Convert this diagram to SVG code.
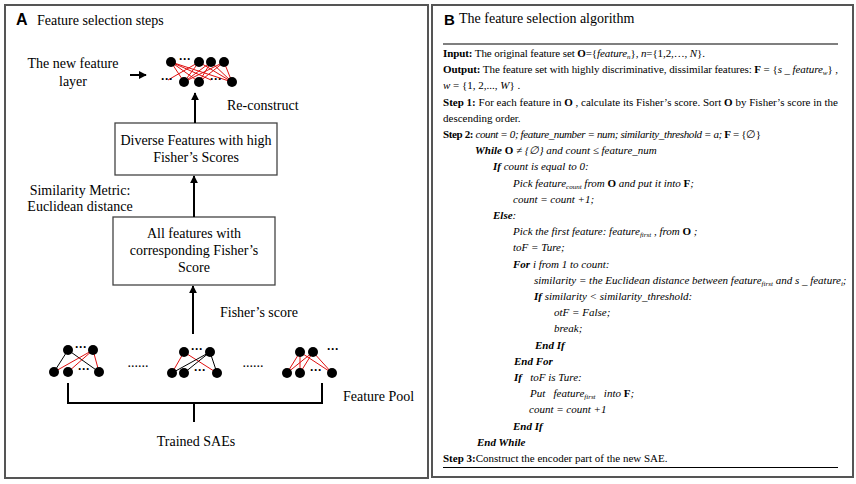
<svg xmlns="http://www.w3.org/2000/svg" width="856" height="484" viewBox="0 0 856 484">
<style>
.panel{fill:#fff;stroke:#555;stroke-width:2}
.box{fill:#fff;stroke:#444;stroke-width:1.3}
.t{font-family:"Liberation Serif","Times New Roman",serif;font-size:14px;fill:#000}
.hd{font-family:"Liberation Sans",Arial,sans-serif;font-weight:bold;fill:#000}
.al{font-family:"Liberation Serif","Times New Roman",serif;font-size:11px;fill:#000}
.b{font-weight:bold}
.i{font-style:italic}
.bi{font-weight:bold;font-style:italic}
.sub{font-size:7px;font-style:italic}
.arr{stroke:#000;stroke-width:2;fill:none;marker-end:url(#ah)}
.red{stroke:#e01010;stroke-width:1}
.blk{stroke:#000;stroke-width:1}
.nd{fill:#000}
.dots{font-family:"Liberation Sans",Arial,sans-serif;font-size:12px;font-weight:bold;fill:#000}
.rule{stroke:#000;stroke-width:1.2}
</style>
<defs>
<marker id="ah" viewBox="0 0 10 10" refX="9" refY="5" markerWidth="8" markerHeight="9" markerUnits="userSpaceOnUse" orient="auto">
<path d="M0,0 L10,5 L0,10 z" fill="#000"/>
</marker>
</defs>
<rect width="856" height="484" fill="#fff"/>
<g id="panelA">
<rect class="panel" x="5" y="5" width="423" height="473"/>
<text class="hd" x="16" y="25" font-size="16">A</text>
<text class="t" x="37" y="25" font-size="15">Feature selection steps</text>
</g>
<g id="panelB">
<rect class="panel" x="432" y="5" width="421" height="472"/>
<text class="hd" x="444" y="25" font-size="15">B</text>
<text class="t" x="459" y="23" font-size="12.8">The feature selection algorithm</text>
<line class="rule" x1="443" y1="44" x2="838" y2="44"/>
<line class="rule" x1="443" y1="467.5" x2="838" y2="467.5"/>
</g>
<g id="new-layer">
<text class="t" x="73" y="68" text-anchor="middle">The new feature</text>
<text class="t" x="73" y="86" text-anchor="middle">layer</text>
<g>
<line class="red" x1="171" y1="62" x2="184" y2="82"/><line class="red" x1="171" y1="62" x2="199" y2="82"/><line class="red" x1="171" y1="62" x2="232" y2="82"/>
<line class="red" x1="199" y1="62" x2="184" y2="82"/><line class="red" x1="199" y1="62" x2="232" y2="82"/><line class="red" x1="199" y1="62" x2="168" y2="80"/>
<line class="red" x1="211" y1="62" x2="184" y2="82"/><line class="red" x1="211" y1="62" x2="199" y2="82"/><line class="red" x1="211" y1="62" x2="232" y2="82"/>
<line class="red" x1="224" y1="62" x2="184" y2="82"/><line class="red" x1="224" y1="62" x2="199" y2="82"/><line class="red" x1="224" y1="62" x2="232" y2="82"/>
<line class="red" x1="171" y1="62" x2="211" y2="80"/>
</g>
<circle class="nd" cx="171" cy="62" r="5"/><circle class="nd" cx="199" cy="62" r="5"/><circle class="nd" cx="211" cy="62" r="5"/><circle class="nd" cx="224" cy="62" r="5"/>
<circle class="nd" cx="184" cy="82" r="5"/><circle class="nd" cx="199" cy="82" r="5"/><circle class="nd" cx="232" cy="82" r="5"/>
<text class="dots" x="185" y="63" text-anchor="middle">···</text>
<text class="dots" x="167" y="83" text-anchor="middle">···</text>
<text class="dots" x="216" y="83" text-anchor="middle">···</text>
<text class="t" x="227" y="110">Re-construct</text>
</g>
<g id="box-diverse">
<rect class="box" x="115" y="123" width="162" height="52"/>
<text class="t" x="196" y="145" text-anchor="middle">Diverse Features with high</text>
<text class="t" x="196" y="162" text-anchor="middle">Fisher’s Scores</text>
</g>
<g id="label-similarity">
<text class="t" x="80" y="195" text-anchor="middle">Similarity Metric:</text>
<text class="t" x="80" y="211" text-anchor="middle">Euclidean distance</text>
</g>
<g id="box-all">
<rect class="box" x="113" y="217" width="162" height="68"/>
<text class="t" x="194" y="238" text-anchor="middle">All features with</text>
<text class="t" x="194" y="255" text-anchor="middle">corresponding Fisher’s</text>
<text class="t" x="194" y="272" text-anchor="middle">Score</text>
</g>
<g id="label-fisher">
<text class="t" x="220" y="317">Fisher’s score</text>
</g>
<g id="net1">
<line class="blk" x1="68" y1="350" x2="54" y2="372"/><line class="blk" x1="68" y1="350" x2="99" y2="372"/>
<line class="red" x1="93" y1="350" x2="54" y2="372"/><line class="red" x1="93" y1="350" x2="68" y2="372"/><line class="red" x1="93" y1="350" x2="99" y2="372"/>
<circle class="nd" cx="68" cy="350" r="5"/><circle class="nd" cx="93" cy="350" r="5"/>
<circle class="nd" cx="54" cy="372" r="5"/><circle class="nd" cx="68" cy="372" r="5"/><circle class="nd" cx="99" cy="372" r="5"/>
<text class="dots" x="81" y="351" text-anchor="middle">···</text>
<text class="dots" x="84" y="373" text-anchor="middle">···</text>
</g>
<g id="net2">
<line class="red" x1="184" y1="352" x2="172" y2="373"/><line class="red" x1="184" y1="352" x2="217" y2="373"/>
<line class="blk" x1="210" y1="352" x2="172" y2="373"/><line class="blk" x1="210" y1="352" x2="184" y2="373"/><line class="blk" x1="210" y1="352" x2="217" y2="373"/>
<circle class="nd" cx="184" cy="352" r="5"/><circle class="nd" cx="210" cy="352" r="5"/>
<circle class="nd" cx="172" cy="373" r="5"/><circle class="nd" cx="184" cy="373" r="5"/><circle class="nd" cx="217" cy="373" r="5"/>
<text class="dots" x="197" y="353" text-anchor="middle">···</text>
<text class="dots" x="200" y="374" text-anchor="middle">···</text>
</g>
<g id="net3">
<line class="red" x1="300" y1="352" x2="287" y2="373"/><line class="red" x1="300" y1="352" x2="300" y2="373"/><line class="red" x1="300" y1="352" x2="332" y2="373"/>
<line class="red" x1="313" y1="352" x2="287" y2="373"/><line class="red" x1="313" y1="352" x2="300" y2="373"/><line class="red" x1="313" y1="352" x2="332" y2="373"/>
<circle class="nd" cx="300" cy="352" r="5"/><circle class="nd" cx="313" cy="352" r="5"/>
<circle class="nd" cx="287" cy="373" r="5"/><circle class="nd" cx="300" cy="373" r="5"/><circle class="nd" cx="332" cy="373" r="5"/>
<text class="dots" x="333" y="353" text-anchor="middle">···</text>
<text class="dots" x="316" y="374" text-anchor="middle">···</text>
</g>
<g id="ellipses">
<text class="t" x="138" y="367" font-size="9" text-anchor="middle">......</text>
<text class="t" x="253" y="367" font-size="9" text-anchor="middle">......</text>
</g>
<g id="label-pool">
<text class="t" x="343" y="401">Feature Pool</text>
</g>
<g id="label-trained">
<text class="t" x="196" y="446" text-anchor="middle">Trained SAEs</text>
</g>
<g id="connectors">
<line class="arr" x1="130" y1="75" x2="146" y2="75"/>
<line class="arr" x1="195" y1="123" x2="195" y2="93"/>
<line class="arr" x1="194" y1="217" x2="194" y2="176"/>
<line class="arr" x1="193" y1="334" x2="193" y2="286"/>
<path d="M68,383 V403 H322 V383 M194,403 V422" stroke="#000" stroke-width="2" fill="none"/>
</g>
<g id="algorithm">
<text class="al" x="443" y="57" textLength="262" lengthAdjust="spacing"><tspan class="b">Input:</tspan> The original feature set <tspan class="b">O</tspan>={<tspan class="i">feature</tspan><tspan class="sub" dy="2">n</tspan><tspan dy="-2">}, </tspan><tspan class="i">n</tspan>={1,2,…, <tspan class="i">N</tspan>}.</text>
<text class="al" x="443" y="73.2" textLength="395" lengthAdjust="spacing"><tspan class="b">Output:</tspan> The feature set with highly discriminative, dissimilar features:  <tspan class="b">F</tspan> = {<tspan class="i">s _ feature</tspan><tspan class="sub" dy="2">w</tspan><tspan dy="-2">} ,</tspan></text>
<text class="al" x="443" y="89.4"><tspan class="i">w</tspan> = {1, 2,..., <tspan class="i">W</tspan>} .</text>
<text class="al" x="443" y="105.6" textLength="395" lengthAdjust="spacing"><tspan class="b">Step 1:</tspan> For each feature in <tspan class="b">O</tspan> , calculate its Fisher’s score. Sort <tspan class="b">O</tspan> by Fisher’s score in the</text>
<text class="al" x="443" y="121.8">descending order.</text>
<text class="al" x="443" y="138" textLength="318" lengthAdjust="spacing"><tspan class="b">Step 2:</tspan> <tspan class="i">count = 0; feature_number = num; similarity_threshold = a;</tspan> <tspan class="b">F</tspan> = {∅}</text>
<text class="al" x="475" y="154.2"><tspan class="bi">While</tspan>  <tspan class="b">O</tspan> <tspan class="i">≠ {∅} and count ≤ feature_num</tspan></text>
<text class="al" x="493" y="170.4"><tspan class="bi">If</tspan> <tspan class="i">count is equal to 0:</tspan></text>
<text class="al i" x="513" y="186.6">Pick feature<tspan class="sub" dy="2">count</tspan><tspan dy="-2">  from </tspan><tspan class="b" font-style="normal">O</tspan> and put it into <tspan class="b" font-style="normal">F</tspan>;</text>
<text class="al i" x="513" y="202.8">count = count +1;</text>
<text class="al" x="493" y="219"><tspan class="bi">Else</tspan><tspan class="i">:</tspan></text>
<text class="al i" x="513" y="235.2">Pick the first feature: feature<tspan class="sub" dy="2">first</tspan><tspan dy="-2"> , from </tspan><tspan class="b" font-style="normal">O</tspan> ;</text>
<text class="al i" x="513" y="251.4">toF = Ture;</text>
<text class="al" x="513" y="267.6"><tspan class="bi">For</tspan> <tspan class="i">i from 1 to count:</tspan></text>
<text class="al i" x="534" y="283.8">similarity = the Euclidean distance between feature<tspan class="sub" dy="2">first</tspan><tspan dy="-2"> and  s _ feature</tspan><tspan class="sub" dy="2">i</tspan><tspan dy="-2">;</tspan></text>
<text class="al" x="534" y="300"><tspan class="bi">If</tspan> <tspan class="i">similarity &lt; similarity_threshold:</tspan></text>
<text class="al i" x="554" y="316.2">otF = False;</text>
<text class="al i" x="554" y="332.4">break;</text>
<text class="al bi" x="535" y="348.6">End If</text>
<text class="al bi" x="514" y="364.8">End For</text>
<text class="al" x="514" y="381" xml:space="preserve"><tspan class="bi">If</tspan>   <tspan class="i">toF is Ture:</tspan></text>
<text class="al i" x="530" y="397.2" xml:space="preserve">Put   feature<tspan class="sub" dy="2">first</tspan><tspan dy="-2">   into </tspan><tspan class="b" font-style="normal">F</tspan>;</text>
<text class="al i" x="529" y="413.4">count = count +1</text>
<text class="al bi" x="513" y="429.6">End If</text>
<text class="al bi" x="477" y="445.8">End While</text>
<text class="al" x="443" y="462"><tspan class="b">Step 3:</tspan>Construct the encoder part of the new SAE.</text>
</g>
</svg>
